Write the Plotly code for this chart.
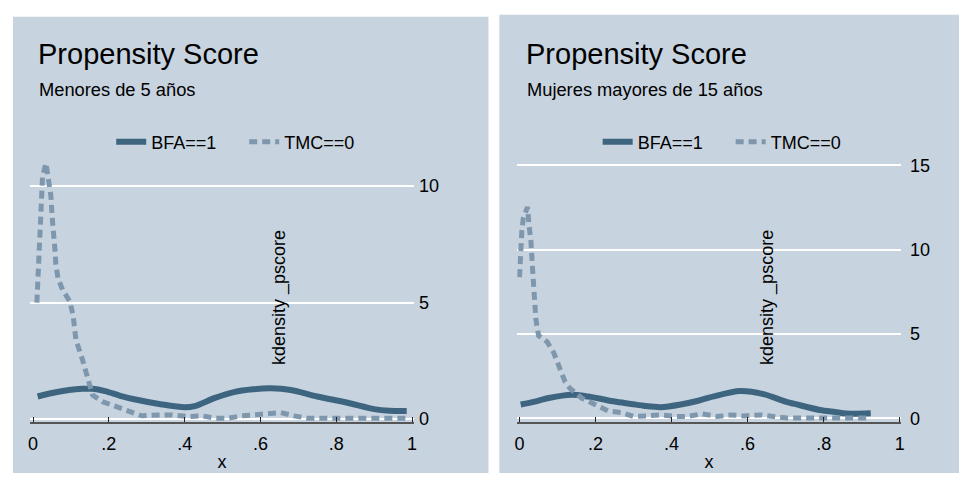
import plotly.graph_objects as go

# ---- data: kernel density of the propensity score ----
# Panel 1: Menores de 5 años
kid_bfa_x = [0.012, 0.05, 0.095, 0.13, 0.157, 0.19, 0.23, 0.27, 0.34, 0.40, 0.427,
             0.48, 0.53, 0.58, 0.628, 0.68, 0.75, 0.83, 0.90, 0.94, 0.986]
kid_bfa_y = [0.97, 1.12, 1.25, 1.30, 1.30, 1.20, 1.00, 0.84, 0.63, 0.51, 0.56,
             0.91, 1.16, 1.28, 1.32, 1.25, 0.97, 0.70, 0.43, 0.36, 0.35]
kid_tmc_x = [0.010, 0.012, 0.015, 0.017, 0.021, 0.025, 0.034, 0.043, 0.047, 0.050,
             0.053, 0.058, 0.060, 0.066, 0.078, 0.097, 0.106, 0.113, 0.130, 0.143,
             0.157, 0.183, 0.226, 0.287, 0.330, 0.366, 0.410, 0.445, 0.480, 0.515,
             0.550, 0.593, 0.625, 0.654, 0.689, 0.724, 0.80, 0.90, 0.986]
kid_tmc_y = [5.00, 5.68, 6.93, 8.19, 9.44, 10.42, 10.98, 10.21, 9.58, 8.74,
             7.77, 7.21, 6.65, 6.03, 5.54, 5.05, 4.42, 3.41, 2.57, 1.73,
             1.03, 0.75, 0.49, 0.14, 0.18, 0.18, 0.11, 0.14, 0.04, 0.04,
             0.14, 0.18, 0.24, 0.28, 0.14, 0.04, 0.04, 0.04, 0.04]

# Panel 2: Mujeres mayores de 15 años
wom_bfa_x = [0.003, 0.04, 0.077, 0.137, 0.18, 0.21, 0.25, 0.294, 0.33, 0.372, 0.424,
             0.47, 0.511, 0.58, 0.642, 0.70, 0.729, 0.79, 0.83, 0.86, 0.924]
wom_bfa_y = [0.83, 1.00, 1.21, 1.40, 1.30, 1.18, 1.00, 0.86, 0.74, 0.67, 0.83,
             1.05, 1.31, 1.62, 1.44, 1.00, 0.83, 0.50, 0.38, 0.29, 0.31]
wom_tmc_x = [0.000, 0.001, 0.0036, 0.006, 0.0097, 0.017, 0.021, 0.025, 0.030, 0.034,
             0.038, 0.043, 0.050, 0.073, 0.090, 0.107, 0.120, 0.133, 0.163, 0.198,
             0.233, 0.268, 0.300, 0.330, 0.373, 0.408, 0.443, 0.480, 0.520, 0.556,
             0.590, 0.634, 0.669, 0.703, 0.80, 0.92]
wom_tmc_y = [8.38, 9.35, 10.31, 11.08, 11.85, 12.43, 12.53, 11.46, 10.50, 8.96,
             7.23, 5.88, 4.91, 4.53, 3.89, 2.93, 2.16, 1.78, 1.21, 0.83,
             0.44, 0.35, 0.12, 0.15, 0.21, 0.12, 0.12, 0.27, 0.12, 0.21,
             0.15, 0.21, 0.12, 0.02, 0.02, 0.02]

x_ticks = [0, 0.2, 0.4, 0.6, 0.8, 1]
x_tick_text = ["0", ".2", ".4", ".6", ".8", "1"]
kid_y_ticks = [0, 5, 10]
wom_y_ticks = [0, 5, 10, 15]

series_names = ["BFA==1", "TMC==0"]
titles = ["Propensity Score", "Propensity Score"]
subtitles = ["Menores de 5 años", "Mujeres mayores de 15 años"]

# ---- styling ----
W, H = 966, 482
BG = "#C7D3DF"
SOLID = "#3D6580"
DASHED = "#7F97AD"
FONT = "Arial, Liberation Sans, sans-serif"


def px(v):
    return v / W


def py(v):
    return 1 - v / H


fig = go.Figure()

panels = [
    dict(xa="x", ya="y", lg="legend", bx=kid_bfa_x, by=kid_bfa_y, tx=kid_tmc_x, ty=kid_tmc_y),
    dict(xa="x2", ya="y2", lg="legend2", bx=wom_bfa_x, by=wom_bfa_y, tx=wom_tmc_x, ty=wom_tmc_y),
]
for p in panels:
    fig.add_trace(go.Scatter(x=p["bx"], y=p["by"], mode="lines", name=series_names[0],
                             xaxis=p["xa"], yaxis=p["ya"], legend=p["lg"],
                             line=dict(color=SOLID, width=6, shape="spline", smoothing=0.8)))
    fig.add_trace(go.Scatter(x=p["tx"], y=p["ty"], mode="lines", name=series_names[1],
                             xaxis=p["xa"], yaxis=p["ya"], legend=p["lg"],
                             line=dict(color=DASHED, width=5, dash="8px,5px")))

xcommon = dict(tickvals=x_ticks, ticktext=x_tick_text, ticks="inside", ticklen=5,
               tickcolor="#222", tickwidth=1, showline=True, linecolor="#555",
               linewidth=1.5, showgrid=False, zeroline=False, ticklabelstandoff=5,
               tickfont=dict(size=18, color="black", family=FONT),
               title=dict(text="x", font=dict(size=18, color="black", family=FONT), standoff=2))
ycommon = dict(side="right", showgrid=True, gridcolor="white", gridwidth=1.5,
               zeroline=False, ticks="", showline=False,
               tickfont=dict(size=18, color="black", family=FONT))

legcommon = dict(orientation="h", xanchor="left", yanchor="middle",
                 bgcolor="rgba(0,0,0,0)", entrywidth=88, entrywidthmode="pixels",
                 font=dict(size=18, color="black", family=FONT))

fig.update_layout(
    width=W, height=H,
    margin=dict(l=0, r=0, t=0, b=0),
    paper_bgcolor="white",
    plot_bgcolor="rgba(0,0,0,0)",
    font=dict(family=FONT, color="black"),
    xaxis=dict(domain=[px(27), px(414)], range=[-0.00865, 1.00524], anchor="y", **xcommon),
    yaxis=dict(domain=[py(428.5), py(160)], range=[-0.117, 11.117], anchor="x",
               tickvals=kid_y_ticks, ticklabelstandoff=4, **ycommon),
    xaxis2=dict(domain=[px(518), px(904.5)], range=[-0.006, 1.0034], anchor="y2", **xcommon),
    yaxis2=dict(domain=[py(428.3), py(160)], range=[-0.19, 15.32], anchor="x2",
                tickvals=wom_y_ticks, ticklabelstandoff=8, **ycommon),
    legend=dict(x=px(109), y=py(141.7), **legcommon),
    legend2=dict(x=px(599), y=py(141.7), **legcommon),
    shapes=[
        dict(type="rect", xref="paper", yref="paper", x0=px(10), x1=px(489),
             y0=py(481), y1=py(13), fillcolor=BG, line=dict(width=0), layer="below"),
        dict(type="rect", xref="paper", yref="paper", x0=px(500), x1=px(963),
             y0=py(481), y1=py(11), fillcolor=BG, line=dict(width=0), layer="below"),
    ],
)

annotations = []
for i, off in enumerate([0, 491.5]):
    annotations.append(dict(text=titles[i], x=px(33 + off), y=py(51), xref="paper", yref="paper",
                            xanchor="left", yanchor="middle", showarrow=False,
                            font=dict(size=29, color="black", family=FONT)))
    annotations.append(dict(text=subtitles[i], x=px(34 + off), y=py(87.5), xref="paper", yref="paper",
                            xanchor="left", yanchor="middle", showarrow=False,
                            font=dict(size=18.3, color="black", family=FONT)))
    annotations.append(dict(text="kdensity _pscore", x=px(280 + off - 1.5), y=py(301),
                            xref="paper", yref="paper", textangle=-90,
                            xanchor="center", yanchor="middle", showarrow=False,
                            font=dict(size=18, color="black", family=FONT)))
fig.update_layout(annotations=annotations)

fig.write_html("out.html")
